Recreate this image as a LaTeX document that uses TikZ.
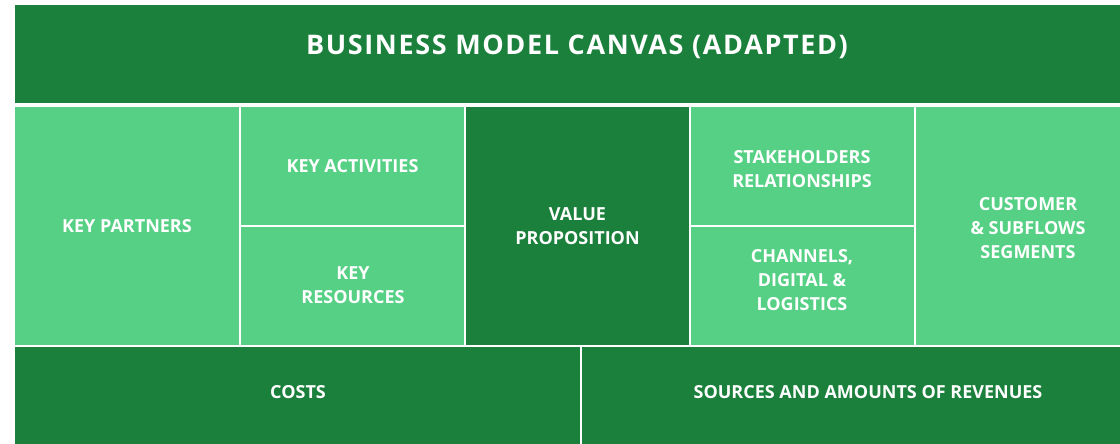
\documentclass[tikz,border=0pt]{standalone}
\usepackage{fontspec}
\setmainfont{Open Sans}
\newfontfamily\headfont[LetterSpace=6]{Open Sans}
\definecolor{canvasdark}{RGB}{27,128,59}
\definecolor{canvaslight}{RGB}{86,208,132}

\begin{document}
\begin{tikzpicture}[
        x=1pt, y=-1pt, % pixel coordinates, y downwards
        block/.style = {anchor=north west, inner sep=0pt, outer sep=0pt, draw=none},
        darkblock/.style = {block, fill=canvasdark},
        lightblock/.style = {block, fill=canvaslight},
        boxcap/.style = {text=white, align=center, font=\bfseries\fontsize{18}{24}\selectfont}, % block captions
        headcap/.style = {boxcap, font=\headfont\bfseries\fontsize{27}{30}\selectfont},
    ]
    \useasboundingbox (0,0) rectangle (1120,444);

    % title bar
    \node[darkblock, minimum width=1126, minimum height=98] (title) at (15,5) {};
    % middle row
    \node[lightblock, minimum width=224, minimum height=238] (partners) at (15,107) {};
    \node[lightblock, minimum width=223, minimum height=118] (activities) at (241,107) {};
    \node[lightblock, minimum width=223, minimum height=118] (resources) at (241,227) {};
    \node[darkblock, minimum width=223, minimum height=238] (value) at (466,107) {};
    \node[lightblock, minimum width=223, minimum height=118] (relations) at (691,107) {};
    \node[lightblock, minimum width=223, minimum height=118] (channels) at (691,227) {};
    \node[lightblock, minimum width=225, minimum height=238] (segments) at (916,107) {};
    % bottom row
    \node[darkblock, minimum width=565, minimum height=100] (costs) at (15,347) {};
    \node[darkblock, minimum width=572, minimum height=100] (revenues) at (582,347) {};

    % captions
    \node[headcap] (title-cap) at (577,47) {BUSINESS MODEL CANVAS (ADAPTED)};
    \node[boxcap] (partners-cap) at (partners.center) {KEY PARTNERS};
    \node[boxcap] (activities-cap) at (activities.center) {KEY ACTIVITIES};
    \node[boxcap] (resources-cap) at (353,285) {KEY\\RESOURCES};
    \node[boxcap] (value-cap) at (value.center) {VALUE\\PROPOSITION};
    \node[boxcap] (relations-cap) at (802,169) {STAKEHOLDERS\\RELATIONSHIPS};
    \node[boxcap] (channels-cap) at (802,280) {CHANNELS,\\DIGITAL \&\\LOGISTICS};
    \node[boxcap] (segments-cap) at (1028,228) {CUSTOMER\\\& SUBFLOWS\\SEGMENTS};
    \node[boxcap] (costs-cap) at (298,392) {COSTS};
    \node[boxcap] (revenues-cap) at (868,392) {SOURCES AND AMOUNTS OF REVENUES};
\end{tikzpicture}
\end{document}
